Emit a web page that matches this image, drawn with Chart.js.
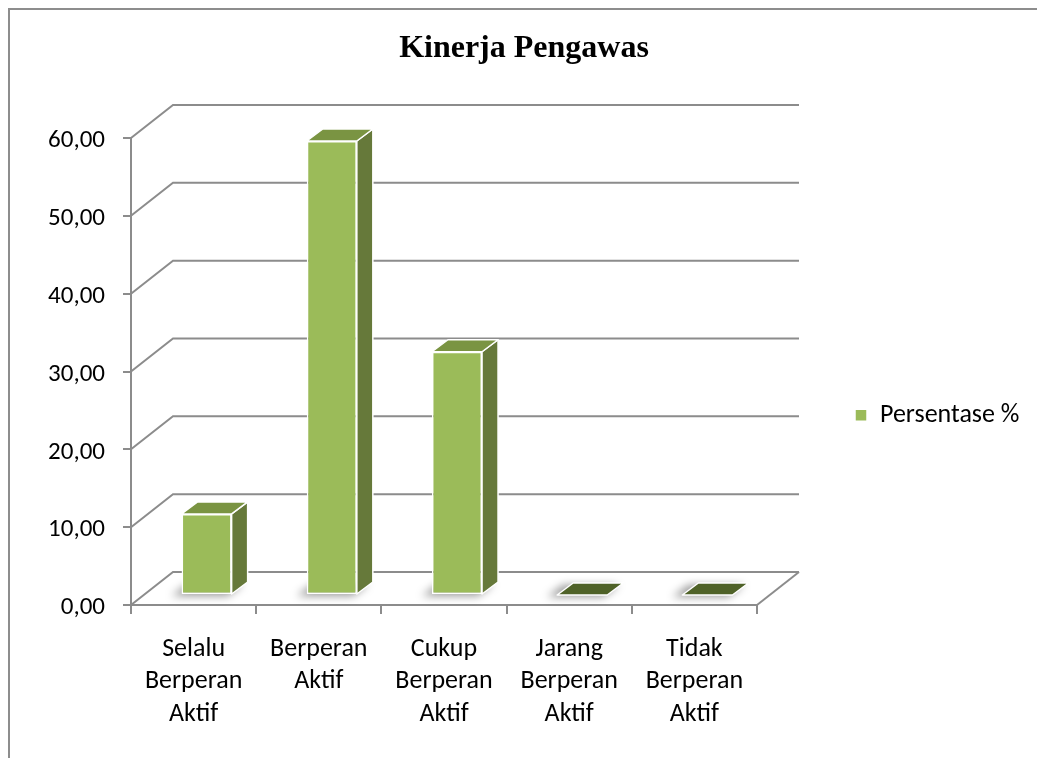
<!DOCTYPE html>
<html>
<head>
<meta charset="utf-8">
<script src="https://cdn.jsdelivr.net/npm/chart.js@4"></script>
<style>
  html, body { margin: 0; padding: 0; background: #fff; overflow: hidden; }
  #wrap { position: relative; width: 1037px; height: 758px; }
  #frame { position: absolute; left: 8px; top: 8px; width: 2000px; height: 2000px; border: 2px solid #8d8d8d; box-sizing: border-box; pointer-events: none; }
  canvas { position: absolute; left: 0; top: 0; }
</style>
</head>
<body>
<div id="wrap">
  <canvas id="chart" width="1037" height="758"></canvas>
  <div id="frame"></div>
</div>
<script>
const chartTitle = 'Kinerja Pengawas';
const seriesName = 'Persentase %';
const categories = [
    ['Selalu', 'Berperan', 'Aktif'],
    ['Berperan', 'Aktif'],
    ['Cukup', 'Berperan', 'Aktif'],
    ['Jarang', 'Berperan', 'Aktif'],
    ['Tidak', 'Berperan', 'Aktif']
];
const persentase = [10.42, 58.33, 31.25, 0, 0];
const yTickLabels = ['0,00', '10,00', '20,00', '30,00', '40,00', '50,00', '60,00'];

// look of the 3d box
const FRONT = { dx: 13, dy: -10 };  // bar fronts sit a bit back on the floor
const DEPTH = { dx: 16, dy: -12 };  // bar depth
const WALL = { dx: 42, dy: -33 };   // back wall
const gridColor = '#8c8c8c';
const fontFamily = 'Carlito, Calibri, Lato, sans-serif';
const labelFont = { family: fontFamily, size: 26, lineHeight: 1.25 };

function poly(ctx, pts, fill) {
    ctx.beginPath();
    ctx.moveTo(pts[0][0], pts[0][1]);
    for (let k = 1; k < pts.length; k++) ctx.lineTo(pts[k][0], pts[k][1]);
    ctx.closePath();
    ctx.fillStyle = fill;
    ctx.fill();
    ctx.stroke();
}

const box3d = {
    id: 'box3d',
    beforeDatasetsDraw(chart) {
        const { ctx, chartArea: a, scales: { y } } = chart;
        ctx.save();
        ctx.strokeStyle = gridColor;
        ctx.lineWidth = 2;
        y.ticks.forEach(t => {
            const py = y.getPixelForValue(t.value);
            ctx.beginPath();
            ctx.moveTo(a.left, py);
            ctx.lineTo(a.left + WALL.dx, py + WALL.dy);
            ctx.lineTo(a.right + WALL.dx, py + WALL.dy);
            ctx.stroke();
        });
        ctx.beginPath();
        ctx.moveTo(a.right, a.bottom);
        ctx.lineTo(a.right + WALL.dx, a.bottom + WALL.dy);
        ctx.stroke();

        // soft shadow under each bar
        ctx.filter = 'blur(4px)';
        ctx.fillStyle = 'rgba(0,0,0,0.4)';
        chart.getDatasetMeta(0).data.forEach(bar => {
            const l = bar.x - bar.width / 2 + FRONT.dx - 10;
            const r = bar.x + bar.width / 2 + FRONT.dx - 4;
            const b = bar.base + FRONT.dy + 2;
            ctx.beginPath();
            ctx.moveTo(l, b);
            ctx.lineTo(r, b);
            ctx.lineTo(r + DEPTH.dx, b + DEPTH.dy);
            ctx.lineTo(l + DEPTH.dx, b + DEPTH.dy);
            ctx.closePath();
            ctx.fill();
        });
        ctx.restore();
    },
    beforeDatasetDraw(chart) {
        chart.ctx.save();
        chart.ctx.translate(FRONT.dx, FRONT.dy);
    },
    afterDatasetDraw(chart) {
        chart.ctx.restore();
    },
    afterDatasetsDraw(chart) {
        const ctx = chart.ctx;
        ctx.save();
        ctx.strokeStyle = '#ffffff';
        ctx.lineWidth = 1.5;
        ctx.lineJoin = 'round';
        chart.getDatasetMeta(0).data.forEach(bar => {
            const l = bar.x - bar.width / 2 + FRONT.dx;
            const r = bar.x + bar.width / 2 + FRONT.dx;
            const top = bar.y + FRONT.dy;
            const b = bar.base + FRONT.dy;
            const flat = Math.abs(b - top) < 1;
            if (!flat) {
                poly(ctx, [[r, top], [r + DEPTH.dx, top + DEPTH.dy], [r + DEPTH.dx, b + DEPTH.dy], [r, b]], '#66793a');
            }
            poly(ctx, [[l, top], [l + DEPTH.dx, top + DEPTH.dy], [r + DEPTH.dx, top + DEPTH.dy], [r, top]], flat ? '#4f6228' : '#7a9442');
        });
        ctx.restore();
    }
};

new Chart(document.getElementById('chart'), {
    type: 'bar',
    data: {
        labels: categories,
        datasets: [{
            label: seriesName,
            data: persentase,
            backgroundColor: '#9bbb59',
            borderColor: '#ffffff',
            borderWidth: 1.5,
            borderSkipped: false,
            barPercentage: 0.4,
            categoryPercentage: 1,
            clip: false
        }]
    },
    options: {
        responsive: false,
        animation: false,
        layout: { padding: { left: 27.5, right: 16.5, top: 0, bottom: 0 } },
        plugins: {
            title: {
                display: true,
                text: chartTitle,
                color: '#000',
                font: { family: "'Liberation Serif', 'Times New Roman', serif", size: 32, weight: 'bold', lineHeight: 1.2 },
                padding: { top: 30, bottom: 69.6 }
            },
            legend: {
                position: 'right',
                align: 'center',
                title: { display: true, text: '', font: { size: 12, lineHeight: 1.2 }, padding: 29 },
                labels: {
                    boxWidth: 12,
                    boxHeight: 12,
                    padding: 0,
                    color: '#000',
                    font: labelFont
                }
            },
            tooltip: { enabled: false }
        },
        scales: {
            x: {
                grid: { display: true, drawOnChartArea: false, drawTicks: true, tickLength: 9, color: gridColor, lineWidth: 2 },
                border: { display: true, color: gridColor, width: 2 },
                ticks: { color: '#000', font: labelFont, padding: 19, maxRotation: 0, autoSkip: false },
                afterFit: s => { s.height = 153; }
            },
            y: {
                min: 0,
                max: 60,
                grid: { display: true, drawOnChartArea: false, drawTicks: true, tickLength: 8, color: gridColor, lineWidth: 2 },
                border: { display: true, color: gridColor, width: 2 },
                ticks: {
                    stepSize: 10,
                    color: '#000',
                    font: { family: fontFamily, size: 25 },
                    padding: 18,
                    labelOffset: 3,
                    callback: (v, i) => yTickLabels[i]
                },
                afterFit: s => { s.width = 131 - 27.5; }
            },
            // empty axis that keeps the gap between the plot and the legend
            gap: {
                type: 'linear',
                position: 'right',
                grid: { display: false },
                border: { display: false },
                ticks: { display: false },
                afterFit: s => { s.width = 98; }
            }
        }
    },
    plugins: [box3d]
});
</script>
</body>
</html>
